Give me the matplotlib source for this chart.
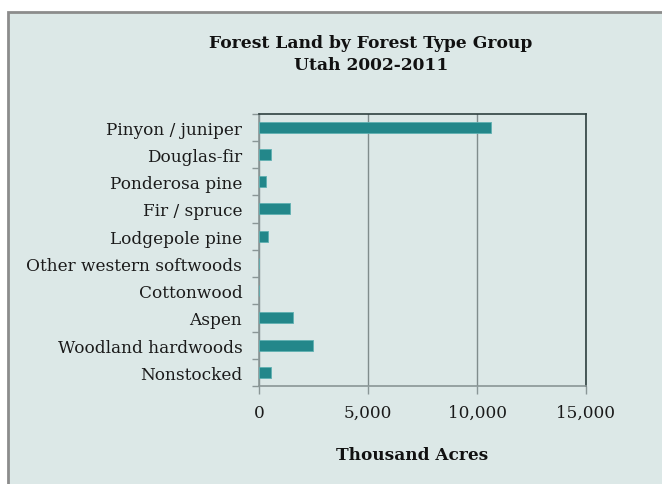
import numpy as np
import matplotlib.pyplot as plt
from matplotlib.patches import Rectangle
from matplotlib.ticker import FuncFormatter, FixedLocator

# forest type groups, top to bottom
groups = ["Pinyon / juniper", "Douglas-fir", "Ponderosa pine", "Fir / spruce",
          "Lodgepole pine", "Other western softwoods", "Cottonwood", "Aspen",
          "Woodland hardwoods", "Nonstocked"]
acres = [10620, 550, 300, 1430, 430, 0, 0, 1540, 2490, 550]  # thousand acres
xticks = [0, 5000, 10000, 15000]

bg = "#dce8e7"
bar_col = "#23878a"

fig = plt.figure(figsize=(6.62, 4.85), dpi=100)
fig.patch.set_facecolor("white")
# panel with a grey frame on the left and top
fig.patches.append(Rectangle((8 / 662, -0.05), 1.1, 1 - 13 / 485 + 0.05,
                             transform=fig.transFigure, facecolor=bg,
                             edgecolor="#8c8c8c", linewidth=2, zorder=-10))

ax = fig.add_axes([259 / 662, 1 - 387 / 485, 327 / 662, 272.5 / 485])
ax.set_zorder(5)
ax.set_facecolor(bg)

y = np.arange(len(groups))
ax.barh(y, acres, height=0.4, color=bar_col, edgecolor="#5fb0b2",
        linewidth=0.6, zorder=3)
ax.set_ylim(len(groups) - 0.5, -0.5)
ax.set_xlim(0, 15000)

ax.set_yticks(y)
ax.set_yticklabels(groups, family="DejaVu Serif", fontsize=12.2, color="#1a1a1a")
ax.tick_params(axis="y", which="major", length=0, pad=12)
ax.yaxis.set_minor_locator(FixedLocator(np.arange(-0.5, len(groups), 1)))
ax.tick_params(axis="y", which="minor", length=5, color="#8a9696", width=1)

ax.set_xticks(xticks)
ax.xaxis.set_major_formatter(FuncFormatter(lambda v, p: f"{int(v):,}"))
ax.tick_params(axis="x", length=6, color="#8a9696", width=1, pad=7)
for lab in ax.get_xticklabels():
    lab.set_family("DejaVu Serif")
    lab.set_fontsize(12.2)
    lab.set_color("#1a1a1a")

ax.grid(axis="x", color="#808c8c", linewidth=1, zorder=1)

ax.spines["left"].set_color("#8a9696")
ax.spines["bottom"].set_color("#8a9696")
ax.spines["top"].set_color("#2e4040")
ax.spines["right"].set_color("#2e4040")
for s in ax.spines.values():
    s.set_linewidth(1.2)

fig.text(371 / 662, 1 - 44 / 485, "Forest Land by Forest Type Group",
         ha="center", va="center", family="DejaVu Serif", fontweight="bold",
         fontsize=12.3, color="#111111")
fig.text(371 / 662, 1 - 66 / 485, "Utah 2002-2011", ha="center", va="center",
         family="DejaVu Serif", fontweight="bold", fontsize=12.3, color="#111111")
fig.text(412 / 662, 1 - 456 / 485, "Thousand Acres", ha="center", va="center",
         family="DejaVu Serif", fontweight="bold", fontsize=12.2, color="#111111")

fig.savefig("out.png", dpi=100)
